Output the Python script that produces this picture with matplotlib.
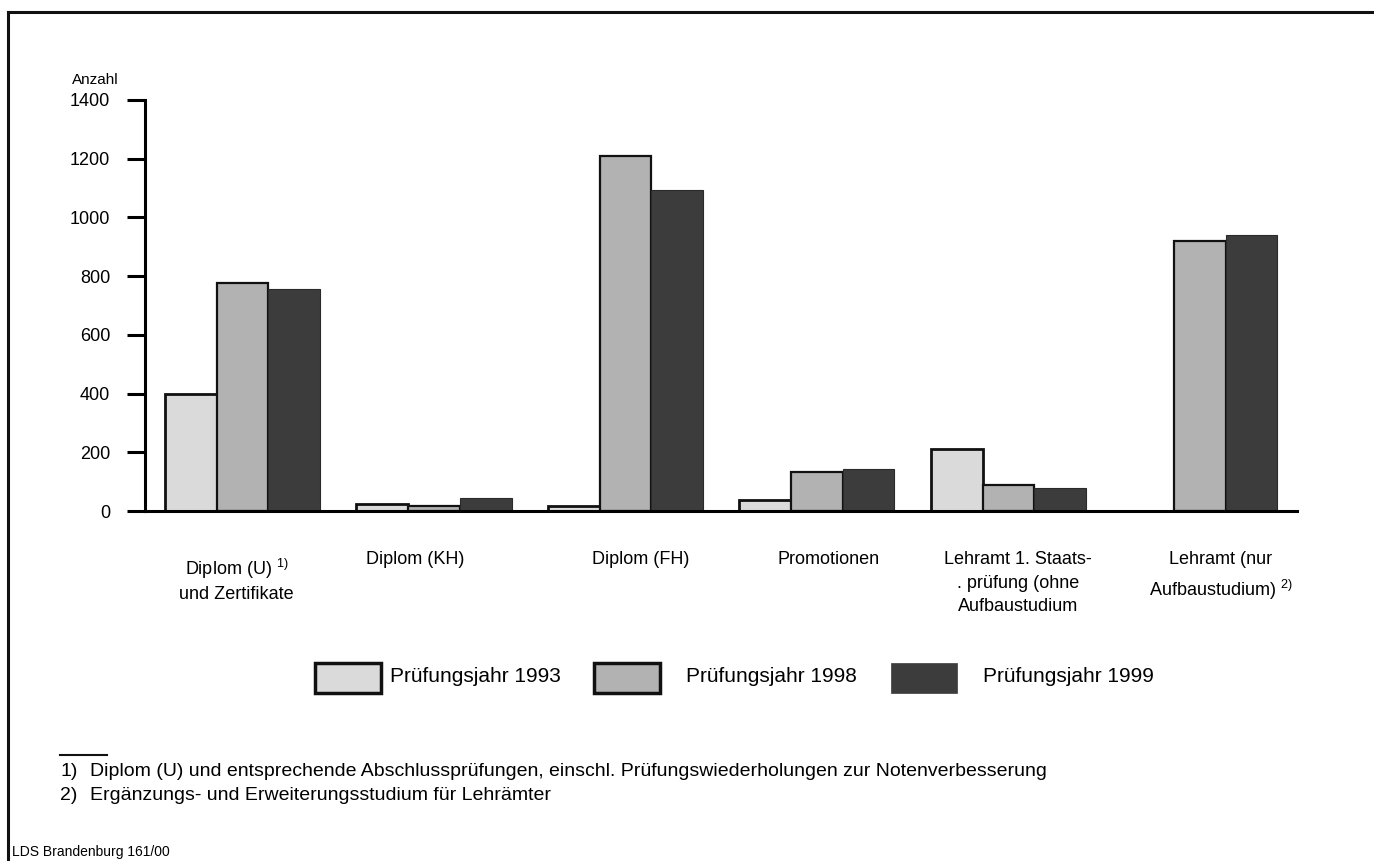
import matplotlib
matplotlib.use("Agg")
import matplotlib.pyplot as plt
from matplotlib.lines import Line2D
from matplotlib.patches import Rectangle
import numpy as np

plt.rcParams['font.family'] = ['Liberation Sans', 'DejaVu Sans']
plt.rcParams['mathtext.fontset'] = 'custom'
plt.rcParams['mathtext.rm'] = 'Liberation Sans'
plt.rcParams['mathtext.it'] = 'Liberation Sans'

# ---------------- data ----------------
categories = [
    "Diplom (U) $^{1)}$\nund Zertifikate",
    "Diplom (KH)",
    "Diplom (FH)",
    "Promotionen",
    "Lehramt 1. Staats-\n. prüfung (ohne\nAufbaustudium",
    "Lehramt (nur\nAufbaustudium) $^{2)}$",
]
series_names = ["Prüfungsjahr 1993", "Prüfungsjahr 1998", "Prüfungsjahr 1999"]
values_1993 = [400, 25, 18, 37, 210, 0]
values_1998 = [775, 18, 1210, 133, 90, 920]
values_1999 = [755, 45, 1095, 142, 80, 940]
yticks = [0, 200, 400, 600, 800, 1000, 1200, 1400]
y_label = "Anzahl"
footnotes = [
    ("1)", "Diplom (U) und entsprechende Abschlussprüfungen, einschl. Prüfungswiederholungen zur Notenverbesserung"),
    ("2)", "Ergänzungs- und Erweiterungsstudium für Lehrämter"),
]
source = "LDS Brandenburg 161/00"

# ---------------- styles ----------------
colors = ["#dadada", "#b2b2b2", "#3c3c3c"]
edgecolors = ["#111111", "#111111", "#2a2a2a"]
edgewidths = [2.0, 1.6, 0.8]
label_offsets = [-0.03, -0.10, 0.08, 0.06, 0.05, 0.11]
label_tops = [557, 551, 551, 551, 551, 551]
label_spacing = [1.35, 1.45, 1.45, 1.45, 1.5, 1.55]

W, H = 1374, 861
def fx(x): return x / W
def fy(y): return 1 - y / H

fig = plt.figure(figsize=(W / 100, H / 100), dpi=100)
fig.patch.set_facecolor("white")

ax = fig.add_axes([fx(145), fy(511), (1297 - 145) / W, (511 - 100) / H])
ax.set_facecolor("none")

x = np.arange(len(categories))
w = 0.27
all_vals = [values_1993, values_1998, values_1999]
for k, vals in enumerate(all_vals):
    ax.bar(x + (k - 1) * w, vals, width=w, color=colors[k],
           edgecolor=edgecolors[k], linewidth=edgewidths[k], zorder=2)

ax.set_xlim(-0.509, 5.507)
ax.set_ylim(0, 1400)
ax.set_yticks(yticks)
ax.set_yticklabels([str(t) for t in yticks])
ax.set_xticks([])
for s in ["top", "right"]:
    ax.spines[s].set_visible(False)
ax.spines["left"].set_linewidth(2.2)
ax.spines["bottom"].set_linewidth(2.2)
ax.spines["bottom"].set_zorder(3)
ax.tick_params(axis="y", direction="out", length=13, width=2.2,
               labelsize=13, pad=12)

# category labels
for i, lab in enumerate(categories):
    xd = x[i] + label_offsets[i]
    xf = fig.transFigure.inverted().transform(ax.transData.transform((xd, 0)))[0]
    fig.text(xf, fy(label_tops[i]), lab, ha="center", va="top",
             fontsize=13, linespacing=label_spacing[i], multialignment="center")

# axis title
fig.text(fx(72), fy(80), y_label, fontsize=11, ha="left", va="center")

# legend (manual)
leg_patch_x = [315, 594, 891]
leg_text_x = [390, 686, 983]
for k, name in enumerate(series_names):
    r = Rectangle((fx(leg_patch_x[k]), fy(693)), 66 / W, 30 / H,
                  transform=fig.transFigure, facecolor=colors[k],
                  edgecolor="#111111" if k < 2 else colors[k],
                  linewidth=2.5 if k < 2 else 0.5)
    fig.add_artist(r)
    fig.text(fx(leg_text_x[k]), fy(677), name, fontsize=15, ha="left", va="center")

# footnotes
fig.add_artist(Line2D([fx(60), fx(107)], [fy(755), fy(755)],
                      transform=fig.transFigure, color="#111111", lw=1.5))
for j, (num, txt) in enumerate(footnotes):
    yy = fy(771 + j * 24)
    fig.text(fx(60), yy, num, fontsize=14, ha="left", va="center")
    fig.text(fx(90), yy, txt, fontsize=14, ha="left", va="center")

fig.text(fx(12), fy(852), source, fontsize=10, ha="left", va="center")

# outer frame (top and left edges)
fig.add_artist(Line2D([fx(8), 1.0], [fy(12), fy(12)], transform=fig.transFigure,
                      color="#111111", lw=2.2))
fig.add_artist(Line2D([fx(8), fx(8)], [fy(12), 0.0], transform=fig.transFigure,
                      color="#111111", lw=2.2))

fig.savefig("out.png", dpi=100, facecolor="white")
